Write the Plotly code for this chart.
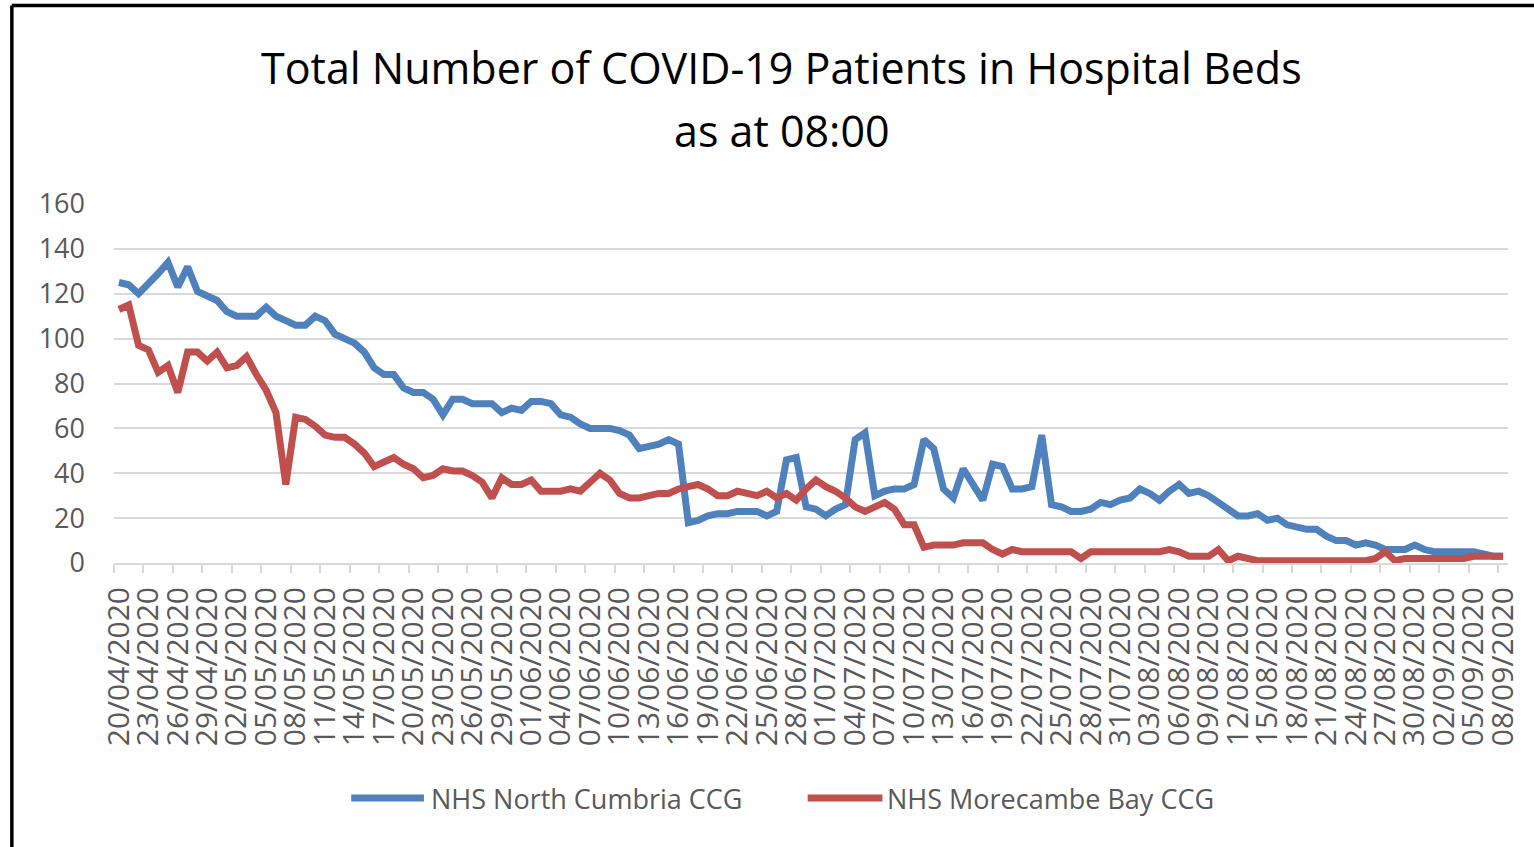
import pandas as pd
import plotly.graph_objects as go

# ---------------- data ----------------
dates = pd.date_range("2020-04-20", "2020-09-08", freq="D")
date_labels = [d.strftime("%d/%m/%Y") for d in dates]

north_cumbria = [
    125, 124, 120, 124, 129, 134, 123, 132, 121, 119,
    117, 112, 110, 110, 110, 114, 110, 108, 106, 106,
    110, 108, 102, 100, 98, 94, 87, 84, 84, 78,
    76, 76, 73, 66, 73, 73, 71, 71, 71, 67,
    69, 68, 72, 72, 71, 66, 65, 62, 60, 60,
    60, 59, 57, 51, 52, 53, 55, 53, 18, 19,
    21, 22, 22, 23, 23, 23, 21, 23, 46, 47,
    25, 24, 21, 24, 26, 55, 58, 30, 32, 33,
    33, 35, 55, 51, 33, 29, 42, 35, 28, 44,
    43, 33, 33, 34, 57, 26, 25, 23, 23, 24,
    27, 26, 28, 29, 33, 31, 28, 32, 35, 31,
    32, 30, 27, 24, 21, 21, 22, 19, 20, 17,
    16, 15, 15, 12, 10, 10, 8, 9, 8, 6,
    6, 6, 8, 6, 5, 5, 5, 5, 5, 4,
    3, 3,
]

morecambe_bay = [
    113, 115, 97, 95, 85, 88, 76, 94, 94, 90,
    94, 87, 88, 92, 84, 77, 67, 35, 65, 64,
    61, 57, 56, 56, 53, 49, 43, 45, 47, 44,
    42, 38, 39, 42, 41, 41, 39, 36, 29, 38,
    35, 35, 37, 32, 32, 32, 33, 32, 36, 40,
    37, 31, 29, 29, 30, 31, 31, 33, 34, 35,
    33, 30, 30, 32, 31, 30, 32, 29, 31, 28,
    33, 37, 34, 32, 29, 25, 23, 25, 27, 24,
    17, 17, 7, 8, 8, 8, 9, 9, 9, 6,
    4, 6, 5, 5, 5, 5, 5, 5, 2, 5,
    5, 5, 5, 5, 5, 5, 5, 6, 5, 3,
    3, 3, 6, 1, 3, 2, 1, 1, 1, 1,
    1, 1, 1, 1, 1, 1, 1, 1, 2, 5,
    1, 2, 2, 2, 2, 2, 2, 2, 3, 3,
    3, 3,
]

series_names = ["NHS North Cumbria CCG", "NHS Morecambe Bay CCG"]
series_colors = ["#4F81BD", "#C0504D"]
title_lines = ["Total Number of COVID-19 Patients in Hospital Beds", "as at 08:00"]
y_ticks = [0, 20, 40, 60, 80, 100, 120, 140, 160]
label_step = 3

# ---------------- layout geometry (window pixels) ----------------
W, H = 1534, 847
PLOT_LEFT, PLOT_RIGHT, PLOT_TOP, PLOT_BOTTOM = 114, 1512.7, 204, 563
L, T = PLOT_LEFT, PLOT_TOP
R, B = W - PLOT_RIGHT, H - PLOT_BOTTOM
PW, PH = PLOT_RIGHT - PLOT_LEFT, PLOT_BOTTOM - PLOT_TOP


def px_x(px):
    return (px - PLOT_LEFT) / PW


def px_y(py):
    return (PLOT_BOTTOM - py) / PH


FONT = "Open Sans"
GREY = "#595959"
GRID = "#D9D9D9"

idx = list(range(len(dates)))
tick_idx = idx[::label_step]
boundary_ticks = [i - 0.5 for i in range(0, len(dates) + 1, label_step)]

fig = go.Figure()
for name, vals, col in zip(series_names, [north_cumbria, morecambe_bay], series_colors):
    fig.add_trace(go.Scatter(
        x=idx, y=vals, mode="lines", name=name,
        line=dict(color=col, width=7, shape="linear"),
        showlegend=False,
    ))

# invisible trace to carry the secondary x axis used for boundary tick marks
fig.add_trace(go.Scatter(x=[0], y=[None], xaxis="x2", showlegend=False, hoverinfo="skip"))

fig.update_layout(
    width=W, height=H,
    margin=dict(l=L, r=R, t=T, b=B, pad=0),
    paper_bgcolor="white", plot_bgcolor="white",
    font=dict(family=FONT, color=GREY),
    xaxis=dict(
        range=[-0.5, len(dates) - 0.5],
        tickmode="array", tickvals=tick_idx,
        ticktext=[date_labels[i] for i in tick_idx],
        tickangle=-90, ticks="", ticklabelstandoff=10,
        tickfont=dict(size=30, color=GREY, family=FONT),
        showgrid=False, zeroline=False,
        showline=True, linecolor=GRID, linewidth=2,
    ),
    xaxis2=dict(
        overlaying="x", matches="x", side="bottom",
        range=[-0.5, len(dates) - 0.5],
        tickmode="array", tickvals=boundary_ticks,
        ticks="outside", ticklen=9, tickwidth=2, tickcolor=GRID,
        showticklabels=False, showgrid=False, zeroline=False, showline=False,
    ),
    yaxis=dict(
        range=[0, 160], tickmode="array", tickvals=y_ticks,
        tickfont=dict(size=27, color=GREY, family=FONT),
        ticks="", ticklabelstandoff=28,
        showgrid=True, gridcolor=GRID, gridwidth=2,
        zeroline=False, showline=False,
    ),
    showlegend=False,
)

# title (two lines)
for line, ypos in zip(title_lines, [68, 130]):
    fig.add_annotation(text=line, xref="paper", yref="paper",
                       x=px_x(784), y=px_y(ypos), showarrow=False,
                       xanchor="center", yanchor="middle",
                       font=dict(size=43, color="black", family=FONT))

# custom legend
legend_items = [(352, 425, 430), (810, 885, 888)]
for (x0, x1, xt), name, col in zip(legend_items, series_names, series_colors):
    fig.add_shape(type="line", xref="paper", yref="paper",
                  x0=px_x(x0), x1=px_x(x1), y0=px_y(798), y1=px_y(798),
                  line=dict(color=col, width=7))
    fig.add_annotation(text=name, xref="paper", yref="paper",
                       x=px_x(xt), y=px_y(798), showarrow=False,
                       xanchor="left", yanchor="middle",
                       font=dict(size=27, color=GREY, family=FONT))

# outer frame (top and left edges visible)
fig.add_shape(type="line", xref="paper", yref="paper",
              x0=px_x(11.5), x1=px_x(11.5), y0=px_y(5.5), y1=px_y(860),
              line=dict(color="black", width=3.5))
fig.add_shape(type="line", xref="paper", yref="paper",
              x0=px_x(11.5), x1=px_x(1545), y0=px_y(5.5), y1=px_y(5.5),
              line=dict(color="black", width=3.5))

# remove the default page margin so the figure sits at the window origin
fig.write_html("out.html",
               config={"displayModeBar": False},
               post_script="document.body.style.margin='0px';document.body.style.overflow='hidden';")
